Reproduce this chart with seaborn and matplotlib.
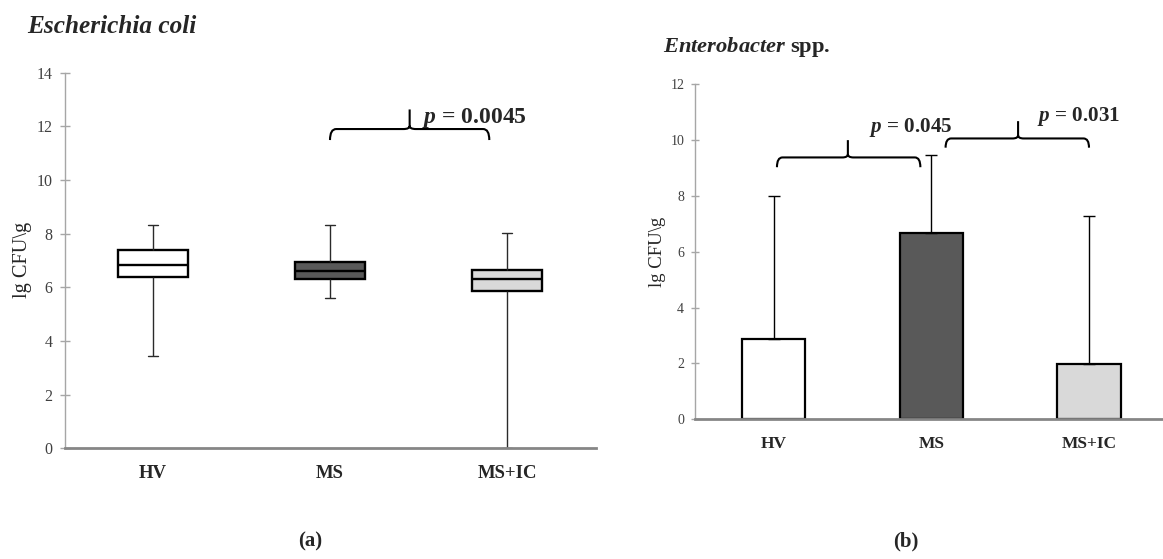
import numpy as np
import pandas as pd
import matplotlib.pyplot as plt
import seaborn as sns
from matplotlib.path import Path
from matplotlib.patches import PathPatch

groups = ["HV", "MS", "MS+IC"]
group_colors = ["#ffffff", "#595959", "#d9d9d9"]

# (a) Escherichia coli - five-number summary
ecoli_min = [3.43, 5.61, 0.0]
ecoli_q1 = [6.38, 6.30, 5.87]
ecoli_med = [6.83, 6.62, 6.31]
ecoli_q3 = [7.39, 6.95, 6.65]
ecoli_max = [8.32, 8.32, 8.01]

# (b) Enterobacter spp. - bar height and top of the error bar
entero_mean = [2.87, 6.66, 1.97]
entero_upper = [8.0, 9.46, 7.28]

p_text_a = "0.0045"
p_text_b = ["0.045", "0.031"]

sns.set_style("ticks")
plt.rcParams["font.family"] = ["Liberation Serif", "DejaVu Serif"]
plt.rcParams["mathtext.fontset"] = "custom"
plt.rcParams["mathtext.it"] = "Liberation Serif:italic:bold"
plt.rcParams["mathtext.rm"] = "Liberation Serif:bold"
plt.rcParams["mathtext.bf"] = "Liberation Serif:bold"

W, H = 1163, 559
fig = plt.figure(figsize=(W / 100, H / 100), dpi=100)
fig.patch.set_facecolor("white")

ax1 = fig.add_axes([64.5 / W, (H - 448.3) / H, 531 / W, 375.6 / H])
ax2 = fig.add_axes([695 / W, (H - 419.3) / H, 472.8 / W, 335 / H])

# long table for the box plot: each group's five numbers
rows = []
for i, g in enumerate(groups):
    for v in [ecoli_min[i], ecoli_q1[i], ecoli_med[i], ecoli_q3[i], ecoli_max[i]]:
        rows.append({"group": g, "value": v})
box_df = pd.DataFrame(rows)

sns.boxplot(data=box_df, x="group", y="value", hue="group", order=groups,
            palette=dict(zip(groups, group_colors)), legend=False,
            width=0.4, whis=(0, 100), linecolor="black", linewidth=1.7,
            whiskerprops={"linewidth": 1.0, "color": "#2a2a2a"},
            capprops={"linewidth": 1.0, "color": "#2a2a2a"},
            capwidths=0.06, showfliers=False, ax=ax1)

bar_df = pd.DataFrame({"group": groups, "value": entero_mean})
sns.barplot(data=bar_df, x="group", y="value", hue="group", order=groups,
            palette=dict(zip(groups, group_colors)), legend=False,
            width=0.4, edgecolor="black", linewidth=1.6, ax=ax2)
up = np.array(entero_upper) - np.array(entero_mean)
ax2.errorbar(np.arange(len(groups)), entero_mean,
             yerr=[np.zeros(len(groups)), up], fmt="none",
             ecolor="black", elinewidth=1.0, capsize=4, capthick=1.0, zorder=1)


def brace(ax, x0, x1, y, yend, xm, ytop):
    rx = 0.035
    s = 0.12
    verts = [(x0, yend), (x0, y), (x0 + rx, y),
             (xm - rx, y), (xm, y), (xm, y + s), (xm, ytop),
             (xm, y + s), (xm, y), (xm + rx, y),
             (x1 - rx, y), (x1, y), (x1, yend)]
    codes = [Path.MOVETO, Path.CURVE3, Path.CURVE3,
             Path.LINETO, Path.CURVE3, Path.CURVE3, Path.LINETO,
             Path.MOVETO, Path.CURVE3, Path.CURVE3,
             Path.LINETO, Path.CURVE3, Path.CURVE3]
    ax.add_patch(PathPatch(Path(verts, codes), fill=False, lw=1.5,
                           edgecolor="black", clip_on=False))


brace(ax1, 1.0, 1.90, 11.9, 11.49, 1.45, 12.63)
ax1.text(1.52, 12.14, "$p$ = " + p_text_a, fontsize=17, fontweight="bold",
         va="baseline", ha="left")

brace(ax2, 0.02, 0.93, 9.38, 9.03, 0.47, 10.0)
brace(ax2, 1.09, 2.0, 10.06, 9.73, 1.55, 10.68)
ax2.text(0.606, 10.3, "$p$ = " + p_text_b[0], fontsize=15.2, fontweight="bold",
         va="baseline", ha="left")
ax2.text(1.668, 10.68, "$p$ = " + p_text_b[1], fontsize=15.2, fontweight="bold",
         va="baseline", ha="left")

for ax, top, fs_y, fs_x, tl in [(ax1, 14, 11.5, 13.5, 7), (ax2, 12, 10, 12.5, 5.5)]:
    ax.set_xlim(-0.5, 2.5)
    ax.set_ylim(0, top)
    ax.set_yticks(range(0, top + 1, 2))
    ax.set_xlabel("")
    ax.set_ylabel("")
    ax.set_facecolor("white")
    for side in ["top", "right"]:
        ax.spines[side].set_visible(False)
    ax.spines["left"].set_color("#a6a6a6")
    ax.spines["left"].set_linewidth(1.0)
    ax.spines["bottom"].set_color("#868686")
    ax.spines["bottom"].set_linewidth(2.0)
    ax.tick_params(axis="y", direction="inout", length=tl, width=1.0,
                   color="#a6a6a6", labelsize=fs_y, labelcolor="#404040", pad=5)
    ax.tick_params(axis="x", length=0, pad=12)
    ax.set_xticks(range(len(groups)))
    ax.set_xticklabels(groups, fontsize=fs_x, fontweight="bold")

fig.text(26.7 / W, 1 - 33.3 / H, "Escherichia coli", fontsize=18.2,
         fontweight="bold", fontstyle="italic", va="baseline", ha="left")
fig.text(662.7 / W, 1 - 51.7 / H, "$Enterobacter$ spp.", fontsize=16.2,
         fontweight="bold", va="baseline", ha="left")

fig.text(22.5 / W, 1 - 260 / H, "lg CFU\\g", fontsize=14.7, rotation=90,
         va="center", ha="center")
fig.text(658 / W, 1 - 252 / H, "lg CFU\\g", fontsize=13.5, rotation=90,
         va="center", ha="center")

fig.text(310 / W, 1 - 541 / H, "(a)", fontsize=15, fontweight="bold",
         va="center", ha="center")
fig.text(906 / W, 1 - 541 / H, "(b)", fontsize=15, fontweight="bold",
         va="center", ha="center")

fig.savefig("out.png", dpi=100)
